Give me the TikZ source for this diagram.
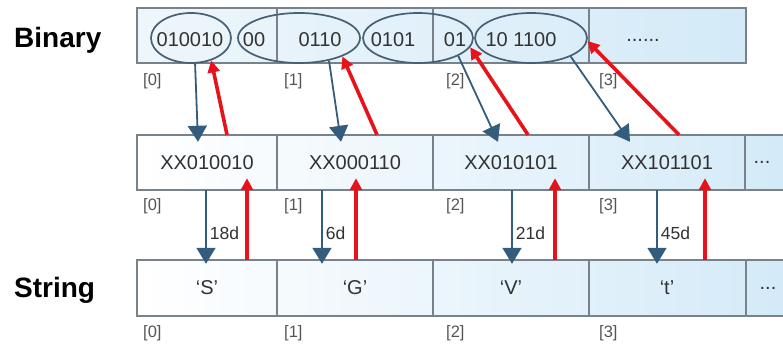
\documentclass[tikz,border=0pt]{standalone}
\usepackage{fontspec}
\setmainfont{Liberation Sans}
\usetikzlibrary{arrows.meta,calc,shapes.geometric}
\definecolor{cellline}{RGB}{120,130,138}
\definecolor{ovalline}{RGB}{72,96,116}
\definecolor{cellblue}{RGB}{212,234,248}
\definecolor{palecell}{RGB}{238,246,251}
\definecolor{bluearrow}{RGB}{52,92,124}
\definecolor{redarrow}{RGB}{232,18,26}
\definecolor{txt}{RGB}{50,50,50}
\definecolor{idxgrey}{RGB}{85,85,85}

\begin{document}
\begin{tikzpicture}[x=1pt,y=-1pt,
  celltext/.style={font=\fontsize{20}{24}\selectfont, text=txt, inner sep=0pt},
  cellnode/.style={celltext, minimum height=55pt},
  idxlabel/.style={font=\fontsize{16.5}{18}\selectfont, text=idxgrey, inner sep=0pt, anchor=west},
  rowtitle/.style={font=\bfseries\fontsize{28}{32}\selectfont, text=black, inner sep=0pt, anchor=base west},
  oval/.style={ellipse, draw=ovalline, line width=1.7pt, inner sep=0pt},
  border/.style={draw=cellline, line width=1.2pt},
  bluearr/.style={draw=bluearrow, line width=1.8pt, -{Triangle[width=19pt,length=16pt]}},
  redarr/.style={draw=redarrow, line width=3.6pt, -{Triangle[width=12pt,length=12pt]}},
  numlabel/.style={font=\fontsize{17.5}{20}\selectfont, text=txt, inner sep=1pt, right=2pt}]

\useasboundingbox (0,0) rectangle (783,344);

% row titles
\node[rowtitle] (tbin) at (14,48) {Binary};
\node[rowtitle] (tstr) at (14,297) {String};

% ---- binary row ----
\shade[left color=palecell, right color=cellblue] (137,8) rectangle (746,63);
\draw[border] (137,8) rectangle (746,63);
\foreach \x in {277,433,589} \draw[border] (\x,8) -- (\x,63);

\node[oval, minimum width=80pt,  minimum height=50pt] (e1) at (191,38) {};
\node[oval, minimum width=122pt, minimum height=50pt] (e2) at (299,38) {};
\node[oval, minimum width=110pt, minimum height=50pt] (e3) at (418,38) {};
\node[oval, minimum width=112pt, minimum height=50pt] (e4) at (531,38) {};

\node[celltext] (b1) at (190,40) {010010};
\node[celltext] (b2) at (254,40) {00};
\node[celltext] (b3) at (320,40) {0110};
\node[celltext] (b4) at (393,40) {0101};
\node[celltext] (b5) at (455,40) {01};
\node[celltext] (b6) at (521,40) {10 1100};
\node[celltext] (b7) at (643,40) {......};

\node[idxlabel] (bi0) at (143,81) {[0]};
\node[idxlabel] (bi1) at (284,81) {[1]};
\node[idxlabel] (bi2) at (446,81) {[2]};
\node[idxlabel] (bi3) at (599,81) {[3]};

% ---- intermediate row ----
\shade[left color=white, right color=cellblue] (137,135) rectangle (783,190);
\draw[border] (783,135) -- (137,135) -- (137,190) -- (783,190);
\foreach \x in {277,433,589,745} \draw[border] (\x,135) -- (\x,190);

\node[cellnode] (m0) at (207,162.5) {XX010010};
\node[cellnode] (m1) at (355,162.5) {XX000110};
\node[cellnode] (m2) at (511,162.5) {XX010101};
\node[cellnode] (m3) at (667,162.5) {XX101101};
\node[cellnode] (m4) at (762,162.5) {...};

\node[idxlabel] (mi0) at (143,206) {[0]};
\node[idxlabel] (mi1) at (284,206) {[1]};
\node[idxlabel] (mi2) at (446,206) {[2]};
\node[idxlabel] (mi3) at (599,206) {[3]};

% ---- string row ----
\shade[left color=white, right color=cellblue] (137,260) rectangle (783,316);
\draw[border] (783,260) -- (137,260) -- (137,316) -- (783,316);
\foreach \x in {277,433,589,746} \draw[border] (\x,260) -- (\x,316);

\node[cellnode, minimum height=56pt] (s0) at (207,288) {‘S’};
\node[cellnode, minimum height=56pt] (s1) at (355,288) {‘G’};
\node[cellnode, minimum height=56pt] (s2) at (511,288) {‘V’};
\node[cellnode, minimum height=56pt] (s3) at (667,288) {‘t’};
\node[cellnode, minimum height=56pt] (s4) at (768,288) {...};

\node[idxlabel] (si0) at (143,333) {[0]};
\node[idxlabel] (si1) at (284,333) {[1]};
\node[idxlabel] (si2) at (446,333) {[2]};
\node[idxlabel] (si3) at (599,333) {[3]};

% ---- bit groups down to padded bytes ----
\draw[bluearr] (e1.-81) -- ([xshift=-9pt,yshift=-7pt]m0.north);
\draw[bluearr] (e2.-37) -- ([xshift=-14pt,yshift=-7pt]m1.north);
\draw[bluearr] (e3.-24) -- ([xshift=-13pt,yshift=-7pt]m2.north);
\draw[bluearr] (e4.-25) -- ([xshift=-37pt,yshift=-7pt]m3.north);

% ---- padded bytes back up to bit groups ----
\draw[redarr] ([xshift=20pt]m0.north) -- (e1.-48);
\draw[redarr] ([xshift=22pt]m1.north) -- (e2.-23);
\draw[redarr] ([xshift=17pt]m2.north) -- (e3.-10);
\draw[redarr] ([xshift=12pt]m3.north) -- (e4.-3);

% ---- padded bytes down to characters ----
\draw[bluearr] ([xshift=-1pt]m0.south) -- ([xshift=-1pt,yshift=-4pt]s0.north) node[numlabel, pos=0.59] (n0) {18d};
\draw[bluearr] ([xshift=-33pt]m1.south) -- ([xshift=-33pt,yshift=-4pt]s1.north) node[numlabel, pos=0.59] (n1) {6d};
\draw[bluearr] ([xshift=1pt]m2.south) -- ([xshift=1pt,yshift=-4pt]s2.north) node[numlabel, pos=0.59] (n2) {21d};
\draw[bluearr] ([xshift=-10pt]m3.south) -- ([xshift=-10pt,yshift=-4pt]s3.north) node[numlabel, pos=0.59] (n3) {45d};

% ---- characters back up to padded bytes ----
\draw[redarr] ([xshift=40pt]s0.north) -- ([xshift=40pt,yshift=12pt]m0.south);
\draw[redarr] ([xshift=1pt]s1.north) -- ([xshift=1pt,yshift=12pt]m1.south);
\draw[redarr] ([xshift=44pt]s2.north) -- ([xshift=44pt,yshift=12pt]m2.south);
\draw[redarr] ([xshift=38pt]s3.north) -- ([xshift=38pt,yshift=12pt]m3.south);

\end{tikzpicture}
\end{document}
